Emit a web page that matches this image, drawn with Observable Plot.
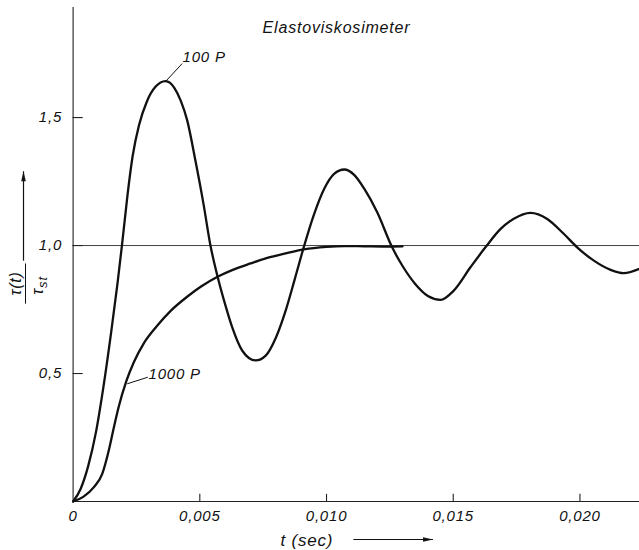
<!DOCTYPE html>
<html>
<head>
<meta charset="utf-8">
<script src="https://cdn.jsdelivr.net/npm/d3@7"></script>
<script src="https://cdn.jsdelivr.net/npm/@observablehq/plot@0.6"></script>
<style>
  html, body { margin: 0; padding: 0; background: #fff; }
</style>
</head>
<body>
<div id="chart"></div>
<script>
// ---- data (t in seconds, value = tau(t)/tau_st) ----
const t100 = [0, 0.0003, 0.0006, 0.0009, 0.0012, 0.0015, 0.00175, 0.00195, 0.00215, 0.00235, 0.0026, 0.0029,
  0.00325, 0.00365, 0.004, 0.00425, 0.0045, 0.00483, 0.00515, 0.00542, 0.00569, 0.006, 0.00628, 0.00667,
  0.0072, 0.0076, 0.008, 0.0084, 0.00875, 0.0091, 0.0095, 0.0099, 0.0103, 0.0107, 0.0111, 0.0115,
  0.012, 0.01259, 0.013, 0.0135, 0.014, 0.0145, 0.01502, 0.01568, 0.01627, 0.01687, 0.01739, 0.01805,
  0.01871, 0.01936, 0.01989, 0.02055, 0.02121, 0.02173, 0.02235];
const v100 = [0, 0.05, 0.14, 0.27, 0.45, 0.66, 0.85, 1.02, 1.2, 1.35, 1.47, 1.56,
  1.62, 1.642, 1.615, 1.565, 1.49, 1.33, 1.16, 1.0, 0.883, 0.77, 0.68, 0.59,
  0.551, 0.57, 0.64, 0.75, 0.87, 0.993, 1.12, 1.22, 1.28, 1.297, 1.275, 1.22,
  1.13, 0.993, 0.92, 0.85, 0.803, 0.788, 0.824, 0.915, 0.993, 1.065, 1.105, 1.128,
  1.104, 1.046, 0.993, 0.941, 0.905, 0.892, 0.909];

const t1000 = [0, 0.0004, 0.00082, 0.00115, 0.00141, 0.00161, 0.0018, 0.0021, 0.0024, 0.0028, 0.0033, 0.00385,
  0.0045, 0.00505, 0.0057, 0.0063, 0.007, 0.0076, 0.0083, 0.0091, 0.01, 0.0107, 0.0115, 0.0123, 0.013];
const v1000 = [0, 0.018, 0.056, 0.108, 0.2, 0.29, 0.37, 0.47, 0.545, 0.62, 0.685, 0.745,
  0.8, 0.84, 0.878, 0.905, 0.93, 0.95, 0.967, 0.985, 0.995, 0.998, 0.997, 0.996, 0.997];

const xTicks = [0, 0.005, 0.010, 0.015, 0.020];
const xTickLabels = ["0", "0,005", "0,010", "0,015", "0,020"];
const yTicks = [0.5, 1.0, 1.5];
const yTickLabels = ["0,5", "1,0", "1,5"];
const reference = [1.0];

// annotations (data units)
const titleText = [{t: 0.010394, v: 1.8516, text: "Elastoviskosimeter"}];
const curveLabels = [
  {t: 0.00432, v: 1.734, text: "100 P"},
  {t: 0.002975, v: 0.496, text: "1000 P"}
];
const leaders = [
  {t1: 0.003646, v1: 1.6406, t2: 0.004303, v2: 1.7109},
  {t1: 0.002135, v1: 0.4598, t2: 0.002948, v2: 0.4855}
];
const xLabel = [{t: 0.008184, v: -0.152, text: "t (sec)"}];
const xArrow = [{t1: 0.01106, t2: 0.0142, v: -0.1484}];
const yArrow = [{t: -0.001957, v1: 0.941, v2: 1.29}];
const yNum = [{t: -0.002273, v: 0.852, text: "τ(t)"}];
const yBar = [{t: -0.001878, v1: 0.930, v2: 0.773}];
const yDen = [{t: -0.001405, v: 0.844, text: "τst"}];

const series100 = t100.map((t, i) => ({t, v: v100[i]}));
const series1000 = t1000.map((t, i) => ({t, v: v1000[i]}));

// narrow filled arrowheads with tip at the origin
const headUp = {draw(ctx, size) { const r = Math.sqrt(size / Math.PI); const L = 3 * r, W = 0.7 * r;
  ctx.moveTo(0, 0); ctx.lineTo(W, L); ctx.lineTo(-W, L); ctx.closePath(); }};
const headRight = {draw(ctx, size) { const r = Math.sqrt(size / Math.PI); const L = 3 * r, W = 0.7 * r;
  ctx.moveTo(0, 0); ctx.lineTo(-L, W); ctx.lineTo(-L, -W); ctx.closePath(); }};

const fontFamily = "'Liberation Sans', Arial, sans-serif";

const chart = Plot.plot({
  width: 639,
  height: 550,
  marginLeft: 72.6,
  marginRight: 0,
  marginTop: 7,
  marginBottom: 49,
  x: {domain: [0, 0.02235]},
  y: {domain: [0, 1.93]},
  style: {fontFamily, fontStyle: "italic", letterSpacing: "0.8px", background: "#fff", color: "#111"},
  marks: [
    Plot.ruleY(reference, {stroke: "#444", strokeWidth: 1}),
    Plot.ruleX([0], {stroke: "#222", strokeWidth: 1.1}),
    Plot.ruleY([0], {stroke: "#222", strokeWidth: 1.1}),
    Plot.ruleY(yTicks, {y: d => d, x1: 0, x2: 0.0004, stroke: "#222", strokeWidth: 1.1}),
    Plot.ruleX(xTicks.slice(1), {x: d => d, y1: 0, y2: 0.028, stroke: "#222", strokeWidth: 1.1}),
    Plot.axisX(xTicks, {tickSize: 0, tickPadding: 9, fontSize: 15, label: null,
      tickFormat: d => xTickLabels[xTicks.indexOf(d)]}),
    Plot.axisY(yTicks, {tickSize: 0, tickPadding: 11, fontSize: 15, label: null,
      tickFormat: d => yTickLabels[yTicks.indexOf(d)]}),
    Plot.line(series1000, {x: "t", y: "v", stroke: "#111", strokeWidth: 2.3, curve: "monotone-x"}),
    Plot.line(series100, {x: "t", y: "v", stroke: "#111", strokeWidth: 2.3, curve: "monotone-x"}),
    Plot.link(leaders, {x1: "t1", y1: "v1", x2: "t2", y2: "v2", stroke: "#111", strokeWidth: 1}),
    Plot.text(curveLabels, {x: "t", y: "v", text: "text", textAnchor: "start", fontSize: 15, fill: "#111"}),
    Plot.text(titleText, {x: "t", y: "v", text: "text", fontSize: 16, fill: "#111"}),
    Plot.text(xLabel, {x: "t", y: "v", text: "text", textAnchor: "start", fontSize: 17, fill: "#111"}),
    Plot.link(xArrow, {x1: "t1", x2: "t2", y1: "v", y2: "v", stroke: "#111", strokeWidth: 1.2}),
    Plot.dot(xArrow, {x: "t2", y: "v", symbol: headRight, r: 3.3, fill: "#111", stroke: "none"}),
    Plot.link(yArrow, {x1: "t", x2: "t", y1: "v1", y2: "v2", stroke: "#111", strokeWidth: 1.2}),
    Plot.dot(yArrow, {x: "t", y: "v2", symbol: headUp, r: 3.3, fill: "#111", stroke: "none"}),
    Plot.text(yNum, {x: "t", y: "v", text: "text", rotate: -90, fontSize: 16, fill: "#111"}),
    Plot.link(yBar, {x1: "t", x2: "t", y1: "v1", y2: "v2", stroke: "#111", strokeWidth: 1}),
    Plot.text(yDen, {x: "t", y: "v", text: "text", rotate: -90, fontSize: 16, fill: "#111"})
  ]
});

// subscript for tau_st
d3.select(chart).selectAll("text").filter(function() { return this.textContent === "τst"; })
  .each(function() {
    const el = d3.select(this);
    el.text("τ");
    el.append("tspan").attr("dy", "0.35em").attr("font-size", "13").text("st");
  });

document.getElementById("chart").appendChild(chart);
</script>
</body>
</html>
